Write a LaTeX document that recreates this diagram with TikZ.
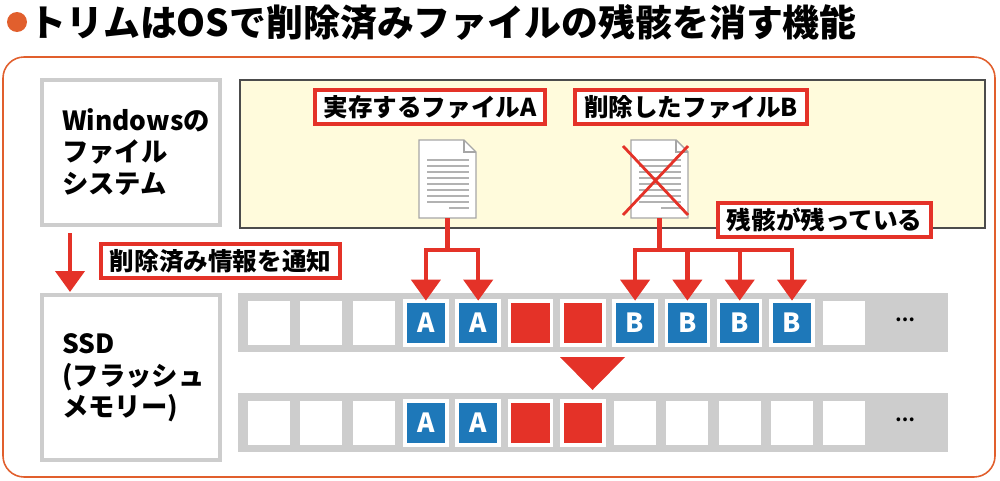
\documentclass[tikz,border=0pt]{standalone}
\usepackage{fontspec}
\setmainfont{Noto Sans CJK JP}
\newfontfamily\medfont{Noto Sans CJK JP Medium}
\usetikzlibrary{positioning,calc,arrows.meta}
\definecolor{myred}{RGB}{228,50,40}
\definecolor{myblue}{RGB}{30,120,185}
\definecolor{myorange}{RGB}{225,95,45}
\definecolor{mygray}{RGB}{205,205,205}
\definecolor{myyellow}{RGB}{255,251,220}
\tikzset{
	redlabel/.style={draw=myred, line width=2.4pt, fill=white, inner xsep=5pt, inner ysep=3pt, font=\fontsize{14}{16}\selectfont\bfseries},
	graybox/.style={draw=mygray, line width=2.8pt, fill=white},
	cell/.style={fill=white, minimum width=0.84cm, minimum height=0.88cm, inner sep=0pt},
	bluecell/.style={cell, fill=myblue, draw=white, line width=2pt, text=white, font=\fontsize{15}{16}\selectfont\bfseries},
	redcell/.style={cell, fill=myred, draw=white, line width=2pt},
	redarrow/.style={draw=myred, line width=2.4pt, -{Triangle[width=0.58cm,length=0.42cm]}},
	redline/.style={draw=myred, line width=2.4pt},
}
\begin{document}
\begin{tikzpicture}[x=0.02cm, y=-0.02cm]
	\useasboundingbox (0,0) rectangle (1000,480);
	% title
	\fill[myorange] (17,22) circle (10);
	\node[anchor=west, inner sep=0pt, font=\fontsize{21}{22}\selectfont\bfseries] (title) at (29,22) {トリムはOSで削除済みファイルの残骸を消す機能};
	\draw[myorange, line width=0.9pt, rounded corners=12] (3,57) rectangle (995,477);

	% left boxes
	\draw[graybox] (42,80) rectangle (220,225);
	\node[anchor=west, align=left, font=\fontsize{15}{18}\selectfont\bfseries] (winfs) at (56,152) {Windowsの\\ファイル\\システム};
	\draw[graybox] (42,295) rectangle (220,460);
	\node[anchor=west, align=left, font=\fontsize{15}{18}\selectfont\bfseries] (ssd) at (56,378) {SSD\\(フラッシュ\\メモリー)};
	\coordinate (wbot) at (70,233);
	\coordinate (stop) at (70,292);
	\draw[redarrow] (wbot) -- (stop);
	\node[redlabel, anchor=west] (notify) at (99,261) {削除済み情報を通知};

	% file system area
	\draw[fill=myyellow, draw=black!70, line width=0.8pt] (240,80) rectangle (985,228);
	\node[redlabel] (lblA) at (430,107) {実存するファイルA};
	\node[redlabel] (lblB) at (691,107) {削除したファイルB};

	% documents
	\foreach \dx/\nm in {419/docA, 631/docB} {
		\draw[black!35, fill=white, line width=0.8pt] (\dx,140) -- (\dx+45,140) -- (\dx+57,152) -- (\dx+57,218) -- (\dx,218) -- cycle;
		\draw[black!35, line width=0.6pt] (\dx+45,140) -- (\dx+45,152) -- (\dx+57,152);
		\foreach \ly in {160,166,...,202} \draw[black!30, line width=1.4pt] (\dx+8,\ly) -- (\dx+50,\ly);
		\draw[black!30, line width=1.4pt] (\dx+30,208) -- (\dx+50,208);
		\coordinate (\nm) at (\dx+28.5,218);
	}
	\draw[myred, line width=1.6pt] (623,146) -- (688,215) (688,146) -- (623,215);
	\node[redlabel, anchor=west] (remain) at (716,220) {残骸が残っている};

	% flash rows
	\fill[mygray] (238,293) rectangle (948,352);
	\fill[mygray] (238,393) rectangle (948,452);
	\foreach \k in {0,...,11} {
		\node[cell] (ra\k) at (269+52.3*\k,323) {};
		\node[cell] (rb\k) at (269+52.3*\k,423) {};
	}
	\foreach \k in {3,4} {
		\node[bluecell] at (ra\k) {A};
		\node[bluecell] at (rb\k) {A};
	}
	\foreach \k in {5,6} {
		\node[redcell] at (ra\k) {};
		\node[redcell] at (rb\k) {};
	}
	\foreach \k in {7,...,10} \node[bluecell] at (ra\k) {B};
	\node[font=\bfseries] (dotsa) at (905,320) {…};
	\node[font=\bfseries] (dotsb) at (905,420) {…};
	\fill[myred] (560,357) -- (625,357) -- (592.5,390) -- cycle;

	% connectors
	\coordinate (splitA) at ($(docA)+(0,32)$);
	\coordinate (splitB) at ($(docB)+(0,32)$);
	\draw[redline] (docA) -- (splitA);
	\draw[redline] (docB) -- (splitB);
	\draw[redarrow] (splitA) -| (ra3.north);
	\draw[redarrow] (splitA) -| (ra4.north);
	\foreach \k in {7,...,10} \draw[redarrow] (splitB) -| (ra\k.north);
\end{tikzpicture}
\end{document}
